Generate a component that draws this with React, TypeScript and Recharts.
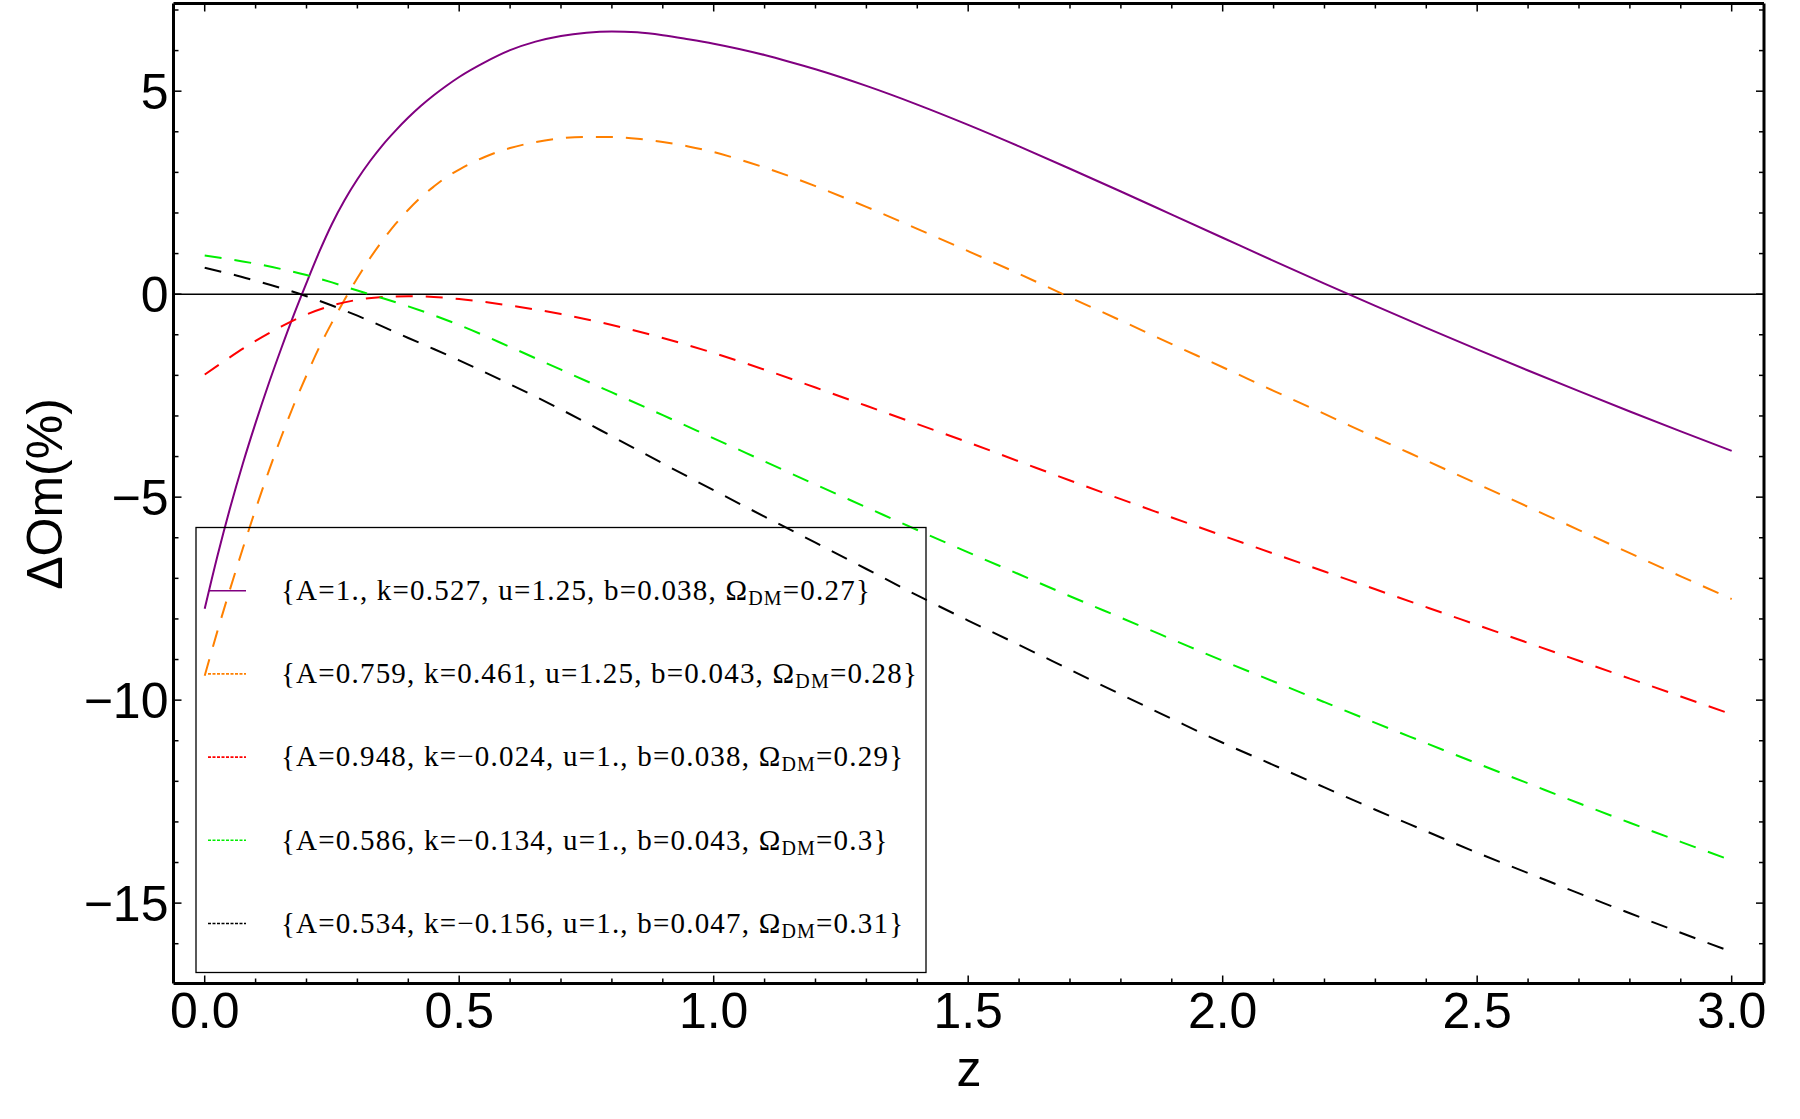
import React from "react";
import { LineChart, Line, XAxis, YAxis, ReferenceLine } from "recharts";

// redshift samples: dense near z=0 where the first two curves bend sharply
const Z_FINE = [0, 0.025, 0.05, 0.075, 0.1, 0.125, 0.15, 0.175, 0.2, 0.225, 0.25, 0.275, 0.3, 0.325, 0.35, 0.375, 0.4, 0.425, 0.45, 0.475, 0.5, 0.55, 0.6, 0.65, 0.7, 0.75, 0.8, 0.85, 0.9, 0.95, 1.0, 1.05, 1.1, 1.15, 1.2, 1.3, 1.4, 1.5, 1.6, 1.7, 1.8, 1.9, 2.0, 2.1, 2.2, 2.3, 2.4, 2.5, 2.6, 2.7, 2.8, 2.9, 3.0];
const Z_COARSE = [0, 0.05, 0.1, 0.15, 0.2, 0.25, 0.3, 0.35, 0.4, 0.45, 0.5, 0.6, 0.7, 0.8, 0.9, 1.0, 1.1, 1.2, 1.3, 1.4, 1.5, 1.6, 1.7, 1.8, 1.9, 2.0, 2.1, 2.2, 2.3, 2.4, 2.5, 2.6, 2.7, 2.8, 2.9, 3.0];

const PURPLE = [-7.75, -6.45, -5.26, -4.17, -3.17, -2.23, -1.35, -0.51, 0.28, 1.04, 1.73, 2.32, 2.83, 3.28, 3.68, 4.03, 4.35, 4.64, 4.9, 5.135, 5.35, 5.71, 6.01, 6.22, 6.36, 6.44, 6.47, 6.45, 6.38, 6.28, 6.17, 6.04, 5.89, 5.72, 5.54, 5.13, 4.67, 4.17, 3.64, 3.09, 2.53, 1.96, 1.39, 0.82, 0.26, -0.29, -0.83, -1.36, -1.88, -2.39, -2.89, -3.38, -3.86];
const ORANGE = [-9.4, -8.3, -7.26, -6.26, -5.3, -4.39, -3.53, -2.73, -2.0, -1.31, -0.7, -0.13, 0.4, 0.89, 1.33, 1.73, 2.08, 2.39, 2.65, 2.885, 3.07, 3.38, 3.6, 3.745, 3.84, 3.875, 3.87, 3.83, 3.75, 3.64, 3.5, 3.32, 3.12, 2.9, 2.66, 2.15, 1.61, 1.06, 0.5, -0.08, -0.65, -1.23, -1.8, -2.38, -2.95, -3.53, -4.1, -4.67, -5.24, -5.81, -6.38, -6.95, -7.51];
const RED = [-1.98, -1.55, -1.15, -0.8, -0.5, -0.28, -0.14, -0.07, -0.05, -0.07, -0.12, -0.28, -0.49, -0.76, -1.08, -1.45, -1.86, -2.3, -2.75, -3.2, -3.65, -4.12, -4.59, -5.05, -5.5, -5.95, -6.39, -6.83, -7.27, -7.71, -8.15, -8.59, -9.03, -9.47, -9.91, -10.35];
const GREEN = [0.95, 0.86, 0.75, 0.62, 0.47, 0.29, 0.09, -0.1, -0.3, -0.52, -0.76, -1.3, -1.86, -2.42, -2.98, -3.55, -4.12, -4.69, -5.25, -5.81, -6.36, -6.9, -7.44, -7.97, -8.5, -9.03, -9.54, -10.05, -10.56, -11.06, -11.56, -12.05, -12.54, -13.02, -13.49, -13.95];
const BLACK = [0.65, 0.5, 0.33, 0.15, -0.05, -0.28, -0.53, -0.8, -1.08, -1.35, -1.63, -2.22, -2.84, -3.5, -4.17, -4.83, -5.48, -6.12, -6.77, -7.42, -8.04, -8.64, -9.25, -9.86, -10.46, -11.05, -11.6, -12.15, -12.7, -13.23, -13.76, -14.26, -14.76, -15.25, -15.73, -16.2];

const X_TICKS = [0, 0.1, 0.2, 0.3, 0.4, 0.5, 0.6, 0.7, 0.8, 0.9, 1.0, 1.1, 1.2, 1.3, 1.4, 1.5, 1.6, 1.7, 1.8, 1.9, 2.0, 2.1, 2.2, 2.3, 2.4, 2.5, 2.6, 2.7, 2.8, 2.9, 3.0];
const Y_TICKS = [-16, -15, -14, -13, -12, -11, -10, -9, -8, -7, -6, -5, -4, -3, -2, -1, 0, 1, 2, 3, 4, 5, 6, 7];

const LEGEND_PARAMS = [
  "{A=1., k=0.527, u=1.25, b=0.038, ",
  "{A=0.759, k=0.461, u=1.25, b=0.043, ",
  "{A=0.948, k=\u22120.024, u=1., b=0.038, ",
  "{A=0.586, k=\u22120.134, u=1., b=0.043, ",
  "{A=0.534, k=\u22120.156, u=1., b=0.047, ",
];
const LEGEND_OMEGA = ["0.27", "0.28", "0.29", "0.3", "0.31"];

const zip = (zs: number[], vs: number[]) => zs.map((z, i) => ({ z, v: vs[i] }));

const SERIES = [
  { key: "purple", color: "#800080", dash: undefined, data: zip(Z_FINE, PURPLE) },
  { key: "orange", color: "#ff8000", dash: "17 13", data: zip(Z_FINE, ORANGE) },
  { key: "red", color: "#ff0000", dash: "17 13", data: zip(Z_COARSE, RED) },
  { key: "green", color: "#00ee00", dash: "17 13", data: zip(Z_COARSE, GREEN) },
  { key: "black", color: "#000000", dash: "17 13", data: zip(Z_COARSE, BLACK) },
];

const W = 1800;
const H = 1119;
const PLOT = { left: 173.5, right: 1764, top: 3.5, bottom: 983.5 };
const SANS = "'Liberation Sans', Arial, sans-serif";
const SERIF = "'Liberation Serif', 'Times New Roman', serif";

const isMajorX = (v: number) => Math.abs(v * 2 - Math.round(v * 2)) < 1e-6;
const isMajorY = (v: number) => v % 5 === 0;
const fmtY = (v: number) => (v < 0 ? "\u2212" + Math.abs(v) : String(v));

function BottomTick(props: any) {
  const { x, y, payload } = props;
  const major = isMajorX(payload.value);
  return (
    <g>
      <line x1={x} x2={x} y1={y} y2={y - (major ? 8 : 5)} stroke="#000" strokeWidth={1.5} />
      {major && (
        <text x={x} y={y + 44} textAnchor="middle" fontFamily={SANS} fontSize={50} fill="#000">
          {payload.value.toFixed(1)}
        </text>
      )}
    </g>
  );
}

function TopTick(props: any) {
  const { x, y, payload } = props;
  const major = isMajorX(payload.value);
  return <line x1={x} x2={x} y1={y} y2={y + (major ? 8 : 5)} stroke="#000" strokeWidth={1.5} />;
}

function LeftTick(props: any) {
  const { x, y, payload } = props;
  const major = isMajorY(payload.value);
  return (
    <g>
      <line x1={x} x2={x + (major ? 8 : 5)} y1={y} y2={y} stroke="#000" strokeWidth={1.5} />
      {major && (
        <text x={x - 5} y={y + 18} textAnchor="end" fontFamily={SANS} fontSize={50} fill="#000">
          {fmtY(payload.value)}
        </text>
      )}
    </g>
  );
}

function RightTick(props: any) {
  const { x, y, payload } = props;
  const major = isMajorY(payload.value);
  return <line x1={x} x2={x - (major ? 8 : 5)} y1={y} y2={y} stroke="#000" strokeWidth={1.5} />;
}

function LegendOverlay() {
  const rowY = (i: number) => 590.7 + i * 83.2;
  return (
    <svg width={W} height={H} style={{ position: "absolute", left: 0, top: 0, pointerEvents: "none" }}>
      <rect x={196} y={527.5} width={730} height={445} fill="none" stroke="#000" strokeWidth={1.3} />
      {SERIES.map((s, i) => (
        <g key={s.key}>
          <line
            x1={208}
            x2={246}
            y1={rowY(i)}
            y2={rowY(i)}
            stroke={s.color}
            strokeWidth={1.6}
            strokeDasharray={s.dash ? "3 1.5" : undefined}
          />
          <text x={281} y={rowY(i) + 9.3} fontFamily={SERIF} fontSize={29} letterSpacing={1.2} fill="#000">
            {LEGEND_PARAMS[i]}
            {"\u03a9"}
            <tspan fontSize={20} dy={5}>DM</tspan>
            <tspan dy={-5}>{"=" + LEGEND_OMEGA[i] + "}"}</tspan>
          </text>
        </g>
      ))}
      <text x={969} y={1086} textAnchor="middle" fontFamily={SANS} fontSize={50} fill="#000">
        z
      </text>
      <text x={62} y={494} textAnchor="middle" fontFamily={SANS} fontSize={50} fill="#000" transform="rotate(-90 62 494)">
        {"\u0394Om(%)"}
      </text>
    </svg>
  );
}

export default function App() {
  const xDomain = [-0.0613, 3.0635];
  const yDomain = [-16.98, 7.16];
  const frame = { stroke: "#000", strokeWidth: 3 };
  return (
    <div style={{ position: "absolute", left: 0, top: 0, width: W, height: H, background: "#fff" }}>
      <LineChart
        width={W}
        height={H}
        margin={{ top: PLOT.top - 1, right: W - PLOT.right - 1, bottom: H - PLOT.bottom - 1, left: PLOT.left - 1 }}
      >
        <XAxis
          dataKey="z"
          type="number"
          domain={xDomain}
          allowDataOverflow
          ticks={X_TICKS}
          interval={0}
          height={1}
          tickSize={0}
          tickMargin={0}
          tickLine={false}
          axisLine={frame}
          tick={<BottomTick />}
        />
        <XAxis
          xAxisId="top"
          orientation="top"
          dataKey="z"
          type="number"
          domain={xDomain}
          allowDataOverflow
          ticks={X_TICKS}
          interval={0}
          height={1}
          tickSize={0}
          tickMargin={0}
          tickLine={false}
          axisLine={frame}
          tick={<TopTick />}
        />
        <YAxis
          type="number"
          domain={yDomain}
          allowDataOverflow
          ticks={Y_TICKS}
          interval={0}
          width={1}
          tickSize={0}
          tickMargin={0}
          tickLine={false}
          axisLine={frame}
          tick={<LeftTick />}
        />
        <YAxis
          yAxisId="right"
          orientation="right"
          type="number"
          domain={yDomain}
          allowDataOverflow
          ticks={Y_TICKS}
          interval={0}
          width={1}
          tickSize={0}
          tickMargin={0}
          tickLine={false}
          axisLine={frame}
          tick={<RightTick />}
        />
        <ReferenceLine y={0} stroke="#000" strokeWidth={1.5} />
        {SERIES.map((s) => (
          <Line
            key={s.key}
            data={s.data}
            dataKey="v"
            type="monotone"
            stroke={s.color}
            strokeWidth={2}
            strokeDasharray={s.dash}
            dot={false}
            activeDot={false}
            isAnimationActive={false}
          />
        ))}
      </LineChart>
      <LegendOverlay />
    </div>
  );
}
